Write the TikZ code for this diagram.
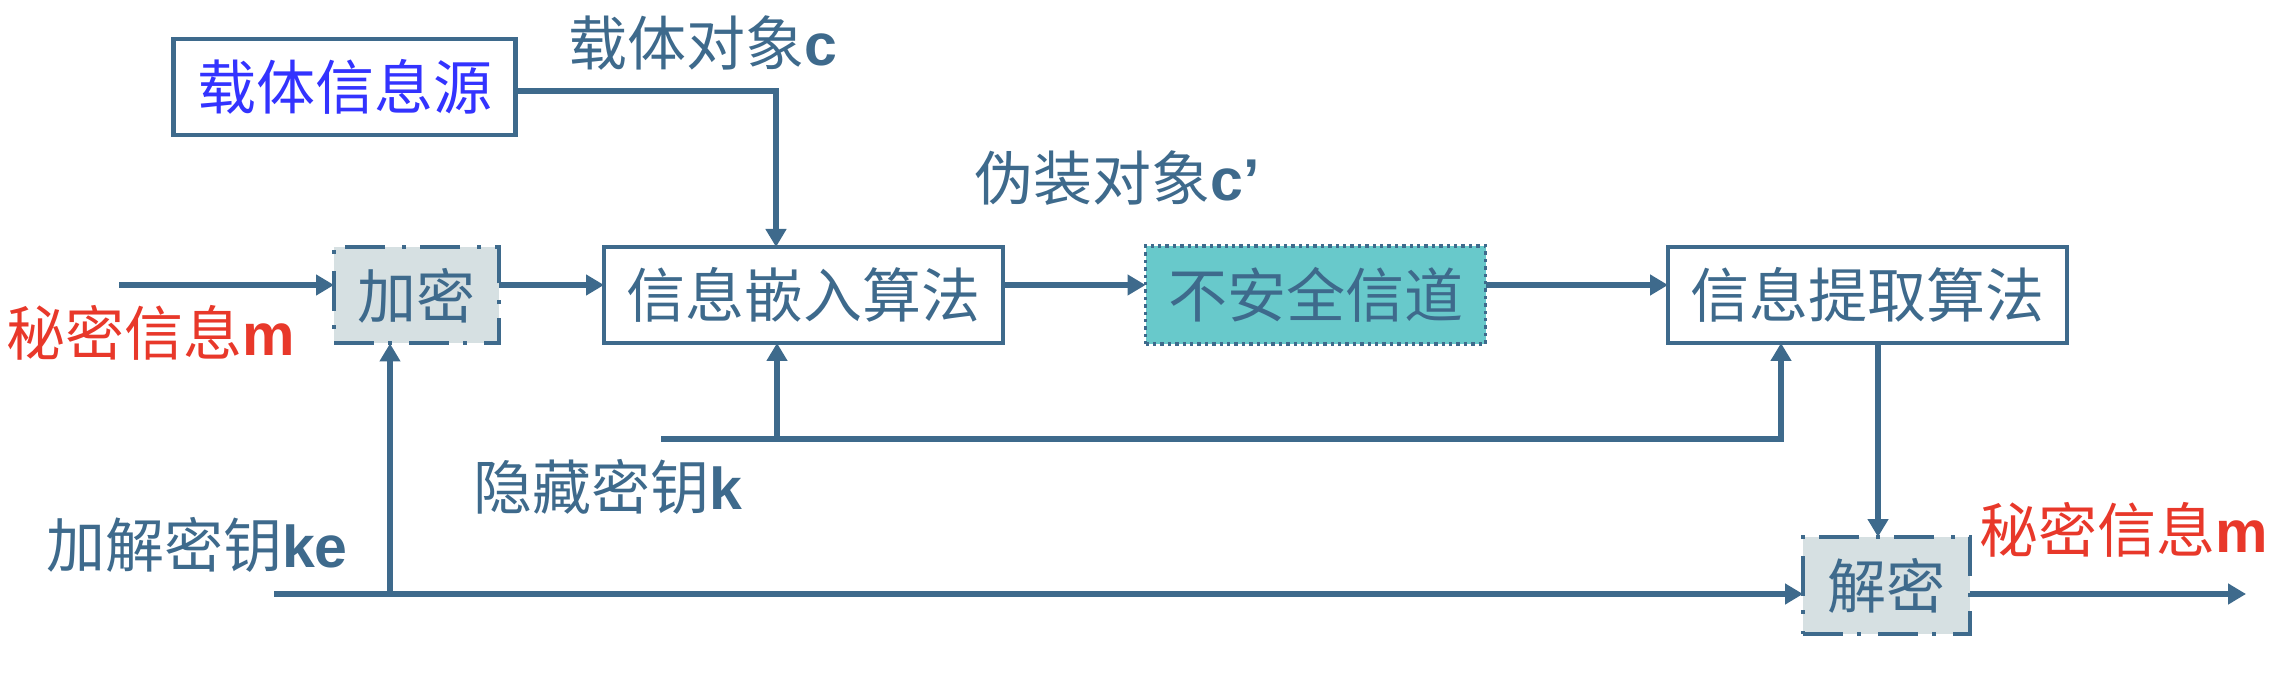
\documentclass[tikz,border=0pt]{standalone}
\usepackage{fontspec}
\setmainfont{Liberation Sans}
\newfontfamily\cjk{Noto Sans CJK SC}
\usetikzlibrary{arrows.meta,calc}
\definecolor{lc}{RGB}{62,106,140}
\definecolor{rd}{RGB}{232,56,42}
\definecolor{bl}{RGB}{51,51,255}
\definecolor{tl}{RGB}{104,201,203}
\definecolor{gf}{RGB}{214,224,226}
\newcommand\lat[1]{{\rmfamily\bfseries #1}}
\begin{document}
\begin{tikzpicture}[x=0.5pt,y=-0.5pt,
  every node/.style={font=\fontsize{29.5}{32}\selectfont\cjk, inner sep=0pt, outer sep=0pt},
  box/.style={draw=lc, line width=2.2pt, text=lc, minimum height=48pt},
  encbox/.style={box, line width=2pt, fill=gf, dash pattern=on 20pt off 7pt on 2pt off 8.5pt},
  chanbox/.style={box, line width=1.7pt, fill=tl, dash pattern=on 1.7pt off 2pt},
  conn/.style={draw=lc, line width=2.6pt},
  arr/.style={conn, -{Triangle[length=9pt,width=10pt]}},
  lbl/.style={text=lc},
  rlbl/.style={text=rd},
]
\useasboundingbox (0,0) rectangle (2278,694);
% boxes
\node[box, minimum width=171pt, text=bl] (src) at (344.5,87) {载体信息源};
\node[encbox, minimum width=82.5pt] (enc) at (416.5,295.5) {加密};
\node[box, minimum width=199.5pt] (embed) at (803.5,295) {信息嵌入算法};
\node[chanbox, minimum width=170pt, minimum height=49pt] (chan) at (1315.5,295) {不安全信道};
\node[box, minimum width=199.5pt] (ext) at (1867.5,295) {信息提取算法};
\node[encbox, minimum width=83.5pt, minimum height=48.5pt] (dec) at (1886.5,585.5) {解密};
% labels
\node[lbl] (lcar) at (703,43) {载体对象\lat{c}};
\node[lbl] (lcam) at (1117,178) {伪装对象\lat{c’}};
\node[rlbl] (lm1) at (151,333) {秘密信息\lat{m}};
\node[lbl] (lhk) at (608,487) {隐藏密钥\lat{k}};
\node[lbl] (lke) at (197,545) {加解密钥\lat{ke}};
\node[rlbl] (lm2) at (2124,530) {秘密信息\lat{m}};
% coordinates
\coordinate (cTurn) at (776,91);
\coordinate (inS) at (119,285);
\coordinate (keS) at (274,594);
\coordinate (keB) at (390,594);
\coordinate (hkS) at (661,439);
\coordinate (hkB) at (777,439);
\coordinate (hkE) at (1781,439);
\coordinate (xd) at (1878,0);
\coordinate (outE) at (2246,594);
% connectors
\draw[arr] (src.east |- cTurn) -- (cTurn) -- (cTurn |- embed.north);
\draw[arr] (inS) -- (enc.west |- inS);
\draw[arr] (enc.east |- inS) -- (embed.west |- inS);
\draw[arr] (embed.east |- inS) -- (chan.west |- inS);
\draw[arr] (chan.east |- inS) -- (ext.west |- inS);
\draw[arr] (hkS) -- (hkE) -- (hkE |- ext.south);
\draw[arr] (hkB) -- (hkB |- embed.south);
\draw[arr] (ext.south -| xd) -- (dec.north -| xd);
\draw[arr] (keS) -- (dec.west |- keS);
\draw[arr] (keB) -- (keB |- enc.south);
\draw[arr] (dec.east |- outE) -- (outE);
\end{tikzpicture}
\end{document}
